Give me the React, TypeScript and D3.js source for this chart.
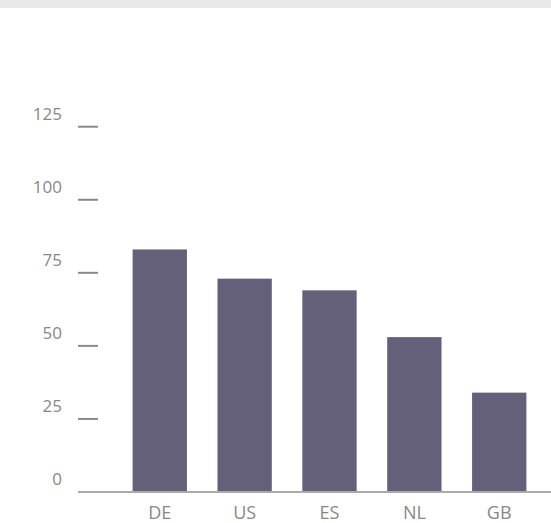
import React from 'react';
import * as d3 from 'd3';

const categories = ['DE', 'US', 'ES', 'NL', 'GB'];
const values = [83, 73, 69, 53, 34];
const yTicks = [0, 25, 50, 75, 100, 125];

const W = 551;
const H = 523;

const App: React.FC = () => {
  const y = d3.scaleLinear().domain([0, 125]).range([492, 126.7]);
  const x = d3.scaleBand<string>()
    .domain(categories)
    .range([108, 551])
    .paddingInner(0.36)
    .paddingOuter(0.29);

  const font = "'Open Sans', sans-serif";

  return (
    <div style={{ position: 'fixed', left: 0, top: 0, width: W, height: H, background: '#fff' }}>
      <svg width={W} height={H} style={{ display: 'block' }}>
        {/* header strip */}
        <rect x={0} y={0} width={W} height={8} fill="#e8e9eb" />

        {/* y ticks */}
        {yTicks.map(t => (
          <g key={t}>
            {t > 0 && (
              <line x1={78} x2={98} y1={y(t)} y2={y(t)} stroke="#8a8a8a" strokeWidth={2} />
            )}
            <text
              x={62}
              y={y(t) - 7}
              textAnchor="end"
              fontFamily={font}
              fontSize={17}
              fill="#888888"
            >
              {t}
            </text>
          </g>
        ))}

        {/* bars */}
        {categories.map((c, i) => (
          <rect
            key={c}
            x={x(c)}
            y={y(values[i])}
            width={x.bandwidth()}
            height={y(0) - y(values[i])}
            fill="#646079"
          />
        ))}

        {/* x axis */}
        <line x1={78} x2={W} y1={y(0)} y2={y(0)} stroke="#aaaaaa" strokeWidth={2} />
        {categories.map(c => (
          <text
            key={c}
            x={(x(c) ?? 0) + x.bandwidth() / 2}
            y={519}
            textAnchor="middle"
            fontFamily={font}
            fontSize={18}
            fill="#888888"
          >
            {c}
          </text>
        ))}
      </svg>
    </div>
  );
};

export default App;
